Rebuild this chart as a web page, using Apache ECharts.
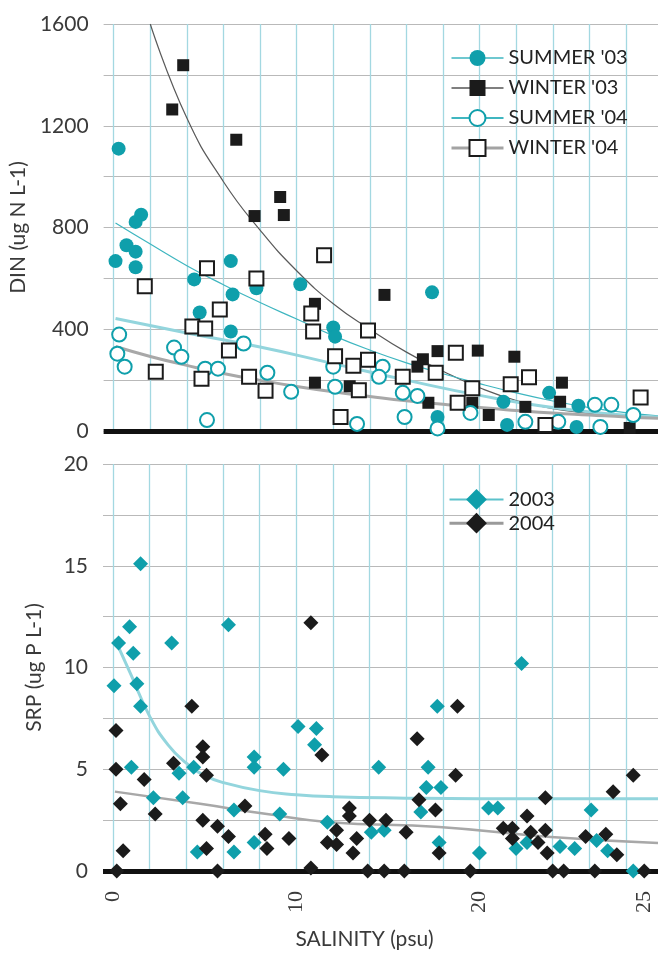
<!DOCTYPE html>
<html>
<head>
<meta charset="utf-8">
<script src="https://cdn.jsdelivr.net/npm/echarts@6/dist/echarts.min.js"></script>
<style>
  html, body { margin: 0; padding: 0; background: #fff; }
  #chart { width: 660px; height: 958px; }
</style>
</head>
<body>
<div id="chart"></div>
<script>
// Salinity (psu) vs nutrient concentrations, two sampling years.

// ---- axis ticks ----
const xGridValues = [0, 2, 4, 6, 8, 10, 12, 14, 16, 18, 20, 22, 24, 26, 28];
const xLabelValues = [0, 10, 20, 29];
const xLabelTexts = ['0', '10', '20', '25'];
const dinTicks = [0, 400, 800, 1200, 1600];
const srpTicks = [0, 5, 10, 15, 20];

// ---- DIN (ug N L-1) observations: [salinity, DIN] ----
const summer03 = [
  [0.27, 1110], [1.5, 850], [1.2, 822], [0.1, 668], [0.7, 730], [1.2, 705], [1.2, 644],
  [4.4, 596], [6.4, 668], [6.5, 537], [7.8, 561], [10.2, 577], [4.7, 466], [6.4, 391],
  [12.0, 407], [12.1, 371], [17.4, 545], [17.7, 55], [21.3, 115], [23.8, 150],
  [21.5, 24], [25.4, 99], [25.3, 16]
];
const winter03 = [
  [3.8, 1438], [3.2, 1264], [6.7, 1145], [9.1, 920], [7.7, 845], [9.3, 849],
  [11.0, 500], [11.0, 190], [14.8, 535], [16.9, 282], [16.6, 253], [17.7, 314],
  [19.9, 316], [21.9, 292], [24.5, 190], [24.4, 115], [12.9, 176], [17.2, 111],
  [19.6, 111], [20.5, 63], [22.5, 95], [28.2, 12]
];
const summer04 = [
  [0.3, 379], [0.2, 304], [0.6, 253], [3.3, 328], [3.7, 292], [5.0, 245], [5.7, 245],
  [7.1, 344], [8.4, 229], [9.7, 154], [5.1, 43], [12.0, 253], [14.7, 253], [14.5, 213],
  [15.8, 150], [16.6, 138], [15.9, 55], [17.7, 10], [19.5, 71], [22.5, 36], [24.3, 36],
  [26.3, 103], [27.2, 103], [28.4, 63], [26.6, 16], [13.3, 28], [12.1, 174]
];
const winter04 = [
  [1.7, 569], [5.1, 640], [7.8, 600], [5.8, 478], [4.3, 411], [5.0, 403], [6.3, 316],
  [2.3, 233], [4.8, 205], [7.4, 213], [8.3, 158], [11.5, 691], [10.8, 462], [10.9, 391],
  [13.9, 395], [18.7, 308], [22.7, 211], [21.7, 184], [19.6, 168], [28.8, 132],
  [12.1, 294], [13.1, 257], [13.9, 280], [15.8, 213], [17.6, 229], [13.4, 160],
  [18.8, 111], [12.4, 55], [23.6, 24]
];

// ---- DIN trend curves: [salinity, DIN] ----
const fitSummer03 = [
  [0.1, 818], [2, 735], [4, 650], [6, 575], [8, 505], [10, 440], [12, 375], [14, 318],
  [16, 268], [18, 225], [20, 186], [22, 150], [24, 118], [26, 92], [28, 72], [29.75, 60]
];
const fitWinter03 = [
  [2, 1600], [4, 1230], [6, 980], [8, 790], [10, 630], [12, 500], [14, 400], [16, 310],
  [18, 235], [20, 170], [22, 120], [24, 88], [26, 70], [28, 60], [29.75, 55]
];
const fitSummer04 = [
  [0.1, 442], [4, 385], [8, 330], [12, 265], [16, 200], [20, 140], [24, 92], [28, 62], [29.75, 55]
];
const fitWinter04 = [
  [0.1, 332], [2, 293], [4, 258], [6, 226], [8, 199], [10, 175], [12, 154], [14, 136],
  [16, 119], [18, 105], [20, 92], [22, 81], [24, 71], [26, 63], [28, 55], [29.75, 50]
];

// ---- SRP (ug P L-1) observations: [salinity, SRP] ----
const srp2003 = [
  [1.5, 15.1], [0.9, 12.0], [0.3, 11.2], [1.1, 10.7], [3.2, 11.2], [6.3, 12.1], [22.3, 10.2],
  [0.05, 9.1], [1.3, 9.2], [1.5, 8.1], [1.0, 5.1], [3.6, 4.8], [4.4, 5.1], [3.8, 3.6],
  [2.2, 3.6], [6.6, 3.0], [4.6, 0.93], [6.6, 0.93], [7.7, 5.6], [7.7, 5.1], [9.3, 5.0],
  [7.7, 1.4], [9.1, 2.8], [10.1, 7.1], [11.1, 7.0], [11.0, 6.2], [11.7, 2.4], [17.7, 8.1],
  [14.5, 5.1], [17.2, 5.1], [17.1, 4.1], [17.9, 4.1], [16.8, 2.9], [17.8, 1.4], [20.5, 3.1],
  [21.0, 3.1], [20.0, 0.88], [22.0, 1.1], [26.1, 3.0], [24.4, 1.2], [25.2, 1.1], [27.0, 1.0],
  [28.4, 0], [14.1, 1.9], [14.8, 2.0], [22.6, 1.4], [26.4, 1.5]
];
const srp2004 = [
  [10.8, 12.2], [0.16, 6.9], [0.16, 5.0], [0.4, 3.3], [0.55, 1.0], [0.2, 0], [1.7, 4.5],
  [2.3, 2.8], [3.3, 5.3], [4.3, 8.1], [4.9, 6.1], [4.9, 5.6], [5.1, 4.7], [4.9, 2.5],
  [5.7, 2.2], [6.3, 1.7], [5.1, 1.1], [5.7, 0], [7.2, 3.2], [8.3, 1.8], [8.4, 1.1],
  [9.6, 1.6], [10.8, 0.15], [11.4, 5.7], [11.7, 1.4], [18.8, 8.1], [16.6, 6.5], [18.7, 4.7],
  [16.7, 3.5], [17.6, 3.0], [17.8, 0.88], [12.9, 3.1], [12.9, 2.7], [12.2, 2.0], [12.2, 1.3],
  [13.3, 1.6], [13.1, 0.88], [14.0, 2.5], [14.9, 2.5], [16.0, 1.9], [13.9, 0], [14.8, 0],
  [15.9, 0], [19.5, 0], [21.3, 2.1], [21.8, 2.1], [21.8, 1.6], [22.6, 2.7], [22.8, 1.9],
  [23.2, 1.4], [23.6, 2.0], [23.7, 0.88], [23.6, 3.6], [25.8, 1.7], [26.9, 1.8], [27.5, 0.8],
  [27.3, 3.9], [28.4, 4.7], [24.0, 0], [24.6, 0], [26.3, 0], [29.0, 0]
];

// ---- SRP trend curves: [salinity, SRP] ----
const fitSrp2003 = [
  [0.1, 11.4], [1, 9.6], [2, 7.6], [3, 6.2], [4, 5.3], [5, 4.7], [6, 4.35],
  [8, 3.95], [10, 3.75], [12, 3.65], [16, 3.58], [20, 3.55], [29.75, 3.55]
];
const fitSrp2004 = [
  [0.1, 3.9], [4.75, 3.3], [8.4, 2.8], [11.8, 2.4], [17.8, 2.16], [23.9, 1.67], [29.75, 1.38]
];

// ---- styling ----
const TEAL = '#0f9fab';
const BLACK = '#1b1b1b';
const SANS = 'Lato';
const TEXT = '#3a3a3a';

const chart = echarts.init(document.getElementById('chart'), null, { renderer: 'canvas' });

function xAxisFor(i) {
  return {
    type: 'value', gridIndex: i, min: -0.55, max: 29.75,
    axisLine: { show: true, onZero: false, lineStyle: { color: '#111', width: 5, cap: 'butt' } },
    axisTick: { show: false, customValues: xGridValues },
    splitLine: { show: true, lineStyle: { color: '#a3d8e1', width: 1.3 } },
    axisLabel: i === 0 ? { show: false } : {
      customValues: xLabelValues,
      formatter: function (v) {
        const k = xLabelValues.findIndex(function (t) { return Math.abs(t - v) < 1e-6; });
        return k >= 0 ? xLabelTexts[k] : '';
      },
      rotate: 90, margin: 20,
      fontFamily: 'Liberation Serif', fontSize: 22, color: TEXT
    },
    name: i === 1 ? 'SALINITY (psu)' : '',
    nameLocation: 'middle', nameGap: 58,
    nameTextStyle: { fontFamily: SANS, fontSize: 21, color: TEXT, padding: [0, 32, 0, 0] }
  };
}

function yAxisFor(i, max, step, labels, name) {
  return {
    type: 'value', gridIndex: i, min: 0, max: max, interval: step,
    axisLine: { show: false }, axisTick: { show: false },
    splitLine: { show: true, lineStyle: { color: '#b9b9b9', width: 1.2 } },
    axisLabel: {
      formatter: function (v) { return labels.indexOf(v) >= 0 ? String(v) : ''; },
      fontFamily: SANS, fontSize: 21, color: TEXT, margin: 15
    },
    name: name, nameLocation: 'middle', nameGap: 58,
    nameTextStyle: { fontFamily: SANS, fontSize: 21, color: TEXT }
  };
}

function points(name, data, axis, symbol, size, color, open) {
  return {
    name: name, type: 'line', xAxisIndex: axis, yAxisIndex: axis, data: data,
    symbol: symbol, symbolSize: size, showSymbol: true,
    lineStyle: { width: 0 },
    itemStyle: open ? { color: color, borderColor: color, borderWidth: 2.5 } : { color: color, borderWidth: 0 },
    silent: true, emphasis: { disabled: true }, z: 4
  };
}

function trend(data, axis, color, width) {
  return {
    type: 'line', xAxisIndex: axis, yAxisIndex: axis, data: data,
    smooth: 0.5, symbol: 'none', showSymbol: false,
    lineStyle: { color: color, width: width },
    silent: true, emphasis: { disabled: true }, z: 3
  };
}

const legendText = { fontFamily: SANS, fontSize: 20, color: '#222', lineHeight: 20 };

chart.setOption({
  animation: false,
  backgroundColor: '#fff',
  grid: [
    { left: 103, top: 24, width: 555, height: 407 },
    { left: 103, top: 464, width: 555, height: 407 }
  ],
  xAxis: [xAxisFor(0), xAxisFor(1)],
  yAxis: [
    yAxisFor(0, 1600, 200, dinTicks, 'DIN (ug N L-1)'),
    yAxisFor(1, 20, 2.5, srpTicks, 'SRP (ug P L-1)')
  ],
  legend: [
    {
      orient: 'vertical', left: 445, top: 43, itemWidth: 52, itemHeight: 20, itemGap: 10,
      selectedMode: false, textStyle: legendText,
      data: [
        { name: "SUMMER '03", lineStyle: { color: '#3fb6c0', width: 1.5, opacity: 1 } },
        { name: "WINTER '03", lineStyle: { color: '#555', width: 1.5, opacity: 1 } },
        { name: "SUMMER '04", lineStyle: { color: '#3fb6c0', width: 2, opacity: 1 } },
        { name: "WINTER '04", lineStyle: { color: '#a3a3a3', width: 3, opacity: 1 } }
      ]
    },
    {
      orient: 'vertical', left: 443, top: 484, itemWidth: 54, itemHeight: 26, itemGap: 3,
      selectedMode: false, textStyle: legendText,
      data: [
        { name: '2003', lineStyle: { color: '#5cc2cb', width: 2, opacity: 1 } },
        { name: '2004', lineStyle: { color: '#9a9a9a', width: 3, opacity: 1 } }
      ]
    }
  ],
  series: [
    trend(fitWinter03, 0, '#5a5a5a', 1.2),
    trend(fitSummer03, 0, '#3fb6c0', 1.2),
    trend(fitSummer04, 0, '#93d5dd', 3),
    trend(fitWinter04, 0, '#a8a8a8', 3),
    points("SUMMER '03", summer03, 0, 'circle', 14, TEAL, false),
    points("WINTER '03", winter03, 0, 'rect', 12, BLACK, false),
    points("SUMMER '04", summer04, 0, 'emptyCircle', 14, TEAL, true),
    points("WINTER '04", winter04, 0, 'emptyRect', 14, BLACK, true),
    trend(fitSrp2003, 1, '#93d5dd', 3),
    trend(fitSrp2004, 1, '#a8a8a8', 2.5),
    points('2003', srp2003, 1, 'diamond', 15, TEAL, false),
    points('2004', srp2004, 1, 'diamond', 15, BLACK, false)
  ]
});
</script>
</body>
</html>
